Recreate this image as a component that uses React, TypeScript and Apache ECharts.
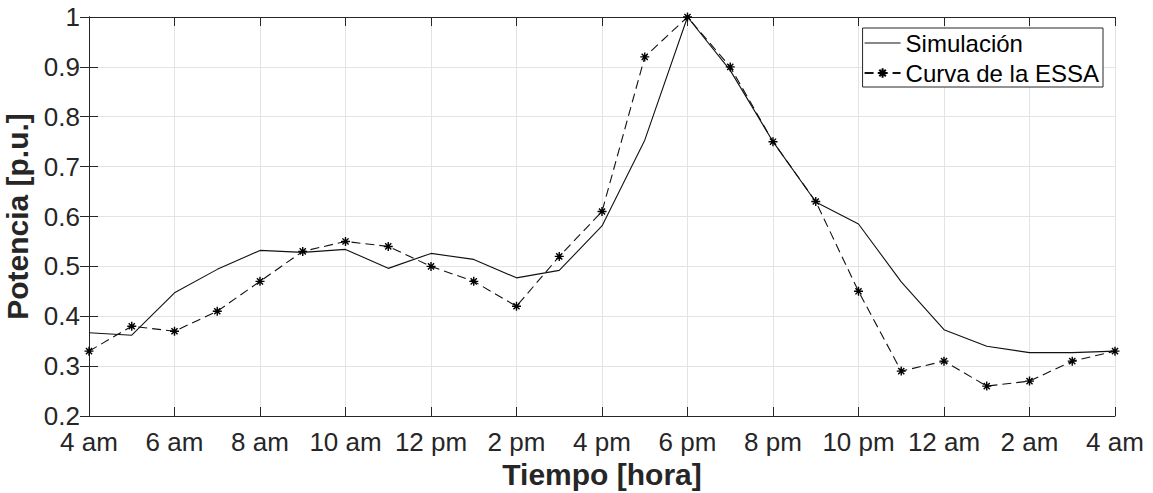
import React, { useEffect, useRef } from "react";
import * as echarts from "echarts";

const hourOffsets = [0, 1, 2, 3, 4, 5, 6, 7, 8, 9, 10, 11, 12, 13, 14, 15, 16, 17, 18, 19, 20, 21, 22, 23, 24];
const xTickLabels = ["4 am", "6 am", "8 am", "10 am", "12 pm", "2 pm", "4 pm", "6 pm", "8 pm", "10 pm", "12 am", "2 am", "4 am"];
const yTickLabels = ["0.2", "0.3", "0.4", "0.5", "0.6", "0.7", "0.8", "0.9", "1"];
const simulation = [0.367, 0.362, 0.447, 0.494, 0.532, 0.528, 0.534, 0.496, 0.526, 0.514, 0.477, 0.492, 0.581, 0.753, 1.0, 0.893, 0.75, 0.629, 0.585, 0.469, 0.373, 0.34, 0.327, 0.327, 0.33];
const essa = [0.33, 0.38, 0.37, 0.41, 0.47, 0.53, 0.55, 0.54, 0.5, 0.47, 0.42, 0.52, 0.61, 0.92, 1.0, 0.9, 0.75, 0.63, 0.45, 0.29, 0.31, 0.26, 0.27, 0.31, 0.33];

const FONT = "'Liberation Sans', Arial, Helvetica, sans-serif";
const AXIS = "#262626";
const GRIDC = "#e3e3e3";
const STAR = "path://M5,0L5,10M0,5L10,5M1.6,1.6L8.4,8.4M1.6,8.4L8.4,1.6";
const SOLID_ICON = "path://M0,0L36,0L36,1.2L0,1.2Z";

export default function App() {
  const ref = useRef<HTMLDivElement>(null);
  useEffect(() => {
    if (!ref.current) return;
    const chart = echarts.init(ref.current, null, { renderer: "svg" });
    const axisCommon = {
      axisLine: { show: true, lineStyle: { color: AXIS, width: 1 } },
      axisTick: { show: true, inside: true, length: 9, lineStyle: { color: AXIS } },
    };
    chart.setOption({
      animation: false,
      backgroundColor: "#fff",
      textStyle: { fontFamily: FONT },
      grid: { left: 89, right: 38, top: 17, bottom: 77, containLabel: false, outerBoundsMode: "none" },
      legend: {
        orient: "vertical",
        right: 50,
        top: 28,
        itemWidth: 36,
        itemHeight: 12,
        itemGap: 6,
        padding: [3, 4, 2, 1],
        borderColor: AXIS,
        borderWidth: 1,
        backgroundColor: "#fff",
        textStyle: { fontSize: 24, color: "#000", fontFamily: FONT },
        data: [{ name: "Simulación", icon: SOLID_ICON }, { name: "Curva de la ESSA" }],
      },
      xAxis: [
        {
          type: "value",
          min: 0,
          max: 24,
          interval: 2,
          ...axisCommon,
          axisLabel: {
            fontSize: 26,
            lineHeight: 20,
            color: AXIS,
            margin: 16,
            formatter: (v: number) => xTickLabels[Math.round(v / 2)],
          },
          splitLine: { show: true, lineStyle: { color: GRIDC, width: 1 } },
          name: "Tiempo [hora]",
          nameLocation: "middle",
          nameGap: 43,
          nameTextStyle: { fontSize: 30, fontWeight: "bold", color: AXIS, fontFamily: FONT },
        },
        {
          type: "value",
          position: "top",
          min: 0,
          max: 24,
          interval: 2,
          ...axisCommon,
          axisLabel: { show: false },
          splitLine: { show: false },
        },
      ],
      yAxis: [
        {
          type: "value",
          min: 0.2,
          max: 1,
          interval: 0.1,
          ...axisCommon,
          axisLabel: {
            fontSize: 26,
            lineHeight: 20,
            color: AXIS,
            margin: 9,
            formatter: (v: number) => yTickLabels[Math.round((v - 0.2) / 0.1)],
          },
          splitLine: { show: true, lineStyle: { color: GRIDC, width: 1 } },
          name: "Potencia [p.u.]",
          nameLocation: "middle",
          nameGap: 48,
          nameTextStyle: { fontSize: 30, fontWeight: "bold", color: AXIS, fontFamily: FONT },
        },
        {
          type: "value",
          position: "right",
          min: 0.2,
          max: 1,
          interval: 0.1,
          ...axisCommon,
          axisLabel: { show: false },
          splitLine: { show: false },
        },
      ],
      series: [
        {
          name: "Simulación",
          type: "line",
          data: hourOffsets.map((h, i) => [h, simulation[i]]),
          symbol: "none",
          lineStyle: { color: "#111", width: 1.1, type: "solid" },
          itemStyle: { color: "#111" },
        },
        {
          name: "Curva de la ESSA",
          type: "line",
          data: hourOffsets.map((h, i) => [h, essa[i]]),
          symbol: STAR,
          symbolSize: 9,
          showAllSymbol: true,
          lineStyle: { color: "#111", width: 1.1, type: [9, 5] },
          itemStyle: { color: "#000", borderColor: "#000", borderWidth: 1.4 },
        },
      ],
    });
    return () => chart.dispose();
  }, []);
  return <div ref={ref} style={{ position: "fixed", left: 0, top: 0, width: 1153, height: 493 }} />;
}
